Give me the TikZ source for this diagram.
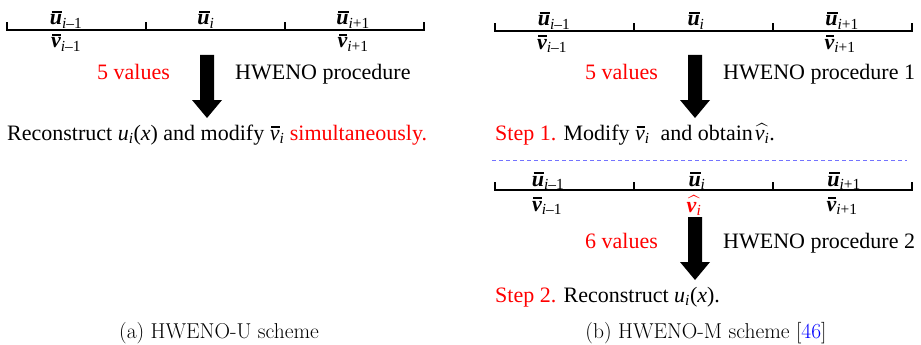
\documentclass[tikz,border=0pt]{standalone}
\usepackage{fix-cm}
\usepackage{amsmath}
\usepackage{fontspec}
\setmainfont{Liberation Serif}
% Latin Modern for the sub-figure captions
\newcommand\lmfam{\fontfamily{lmr}\selectfont}
\usetikzlibrary{calc}

% italic letters inside math, in the text face
\newcommand\itx[1]{\text{\rmfamily\itshape #1}}
% a letter with a heavy bar over it
\newsavebox\lbox
\newcommand\barred[1]{\mbox{\sbox\lbox{#1}%
  \makebox[0pt][l]{\hspace{0.15\wd\lbox}\raisebox{\dimexpr\ht\lbox+2.2pt\relax}{\rule{0.85\wd\lbox}{1.5pt}}}%
  \usebox\lbox}}
% cell labels (bold letters)
\newcommand\ubr[1]{\ensuremath{\barred{\bfseries\itshape u}_{\itx{#1}}}}
\newcommand\vbr[1]{\ensuremath{\barred{\bfseries\itshape v}_{\itx{#1}}}}
% in-sentence symbols
\newcommand\vbt{\ensuremath{\barred{\itshape v}_{\itx{i}}}}
\newcommand\vht{\ensuremath{\widehat{\itx{v}_{\itx{i}}}}}
\newcommand\vhtb{\ensuremath{\widehat{\text{\bfseries\itshape v}_{\itx{i}}}}}
\newcommand\uix{\itx{u}\ensuremath{_{\itx{i}}}(\itx{x})}

% filled block arrow pointing down, from #1 (top of shaft) to #2 (tip)
\newcommand\blockarrow[2]{%
  \fill ($(#1)+(-7,0)$) -- ($(#2)+(-7,-18)$) -- ($(#2)+(-15,-18)$) -- (#2)
    -- ($(#2)+(15,-18)$) -- ($(#2)+(7,-18)$) -- ($(#1)+(7,0)$) -- cycle;}

\tikzset{
  txt/.style={font=\rmfamily\fontsize{22}{26}\selectfont, inner sep=0pt, anchor=base west},
  lab/.style={font=\rmfamily\fontsize{22}{26}\selectfont, inner sep=0pt, anchor=base},
  captext/.style={font=\lmfam\fontsize{21.5}{26}\selectfont, inner sep=0pt, anchor=base},
  cellline/.style={line width=2pt, line cap=rect},
  sepline/.style={draw=blue!55!white, line width=1pt, dash pattern=on 4pt off 3pt}
}

\begin{document}
\begin{tikzpicture}[x=1pt, y=-1pt]
\useasboundingbox (0,0) rectangle (921,345);

% ---------- (a) HWENO-U ----------
\coordinate (a0) at (7,30);   \coordinate (a1) at (146,30);
\coordinate (a2) at (285,30); \coordinate (a3) at (424,30);
\draw[cellline] ($(a0)+(0,-7)$) -- (a0) -- (a3) -- ($(a3)+(0,-7)$);
\draw[cellline] (a1) -- ++(0,-7) (a2) -- ++(0,-7);

\node[lab] (au1) at (66,25)  {\ubr{i\upshape –1}};
\node[lab] (au2) at (206,25) {\ubr{i}};
\node[lab] (au3) at (353,25) {\ubr{i\upshape +1}};
\node[lab] (av1) at (66,48)  {\vbr{i\upshape –1}};
\node[lab] (av3) at (353,48) {\vbr{i\upshape +1}};

\node[txt, text=red] (afive) at (97,80) {5 values};
\node[txt] (aproc) at (235,80) {HWENO procedure};
\coordinate (aarrs) at (207,55);
\coordinate (aarre) at (207,118);
\blockarrow{aarrs}{aarre}
\node[txt] (arec) at (7,140) {Reconstruct \uix{} and modify \vbt{} \textcolor{red}{simultaneously.}};

\node[captext] (acap) at (219,338) {(a)\ HWENO-U scheme};

% ---------- (b) HWENO-M ----------
\coordinate (b0) at (495,31); \coordinate (b1) at (634,31);
\coordinate (b2) at (773,31); \coordinate (b3) at (912,31);
\draw[cellline] ($(b0)+(0,-7)$) -- (b0) -- (b3) -- ($(b3)+(0,-7)$);
\draw[cellline] (b1) -- ++(0,-7) (b2) -- ++(0,-7);

\node[lab] (bu1) at (554,26) {\ubr{i\upshape –1}};
\node[lab] (bu2) at (696,26) {\ubr{i}};
\node[lab] (bu3) at (842,26) {\ubr{i\upshape +1}};
\node[lab] (bv1) at (552,49) {\vbr{i\upshape –1}};
\node[lab] (bv3) at (840,49) {\vbr{i\upshape +1}};

\node[txt, text=red] (bfive) at (585,80) {5 values};
\node[txt] (bproc) at (723,80) {HWENO procedure 1};
\coordinate (barrs) at (695,55);
\coordinate (barre) at (695,118);
\blockarrow{barrs}{barre}
\node[txt] (bstep1) at (495,140) {\textcolor{red}{Step 1.} Modify \vbt\ \ and obtain\kern2pt\vht.};

\coordinate (sepl) at (492,160);
\coordinate (sepr) at (907,160);
\draw[sepline] (sepl) -- (sepr);

\coordinate (c0) at (495,190); \coordinate (c1) at (634,190);
\coordinate (c2) at (773,190); \coordinate (c3) at (912,190);
\draw[cellline] ($(c0)+(0,-7)$) -- (c0) -- (c3) -- ($(c3)+(0,-7)$);
\draw[cellline] (c1) -- ++(0,-7) (c2) -- ++(0,-7);

\node[lab] (cu1) at (548,186) {\ubr{i\upshape –1}};
\node[lab] (cu2) at (697,186) {\ubr{i}};
\node[lab] (cu3) at (844,186) {\ubr{i\upshape +1}};
\node[lab] (cv1) at (547,211) {\vbr{i\upshape –1}};
\node[lab, text=red] (cv2) at (694,212) {\vhtb};
\node[lab] (cv3) at (842,211) {\vbr{i\upshape +1}};

\node[txt, text=red] (csix) at (585,248) {6 values};
\node[txt] (cproc) at (723,248) {HWENO procedure 2};
\coordinate (carrs) at (695,217);
\coordinate (carre) at (695,280);
\blockarrow{carrs}{carre}
\node[txt] (cstep2) at (495,302) {\textcolor{red}{Step 2.} Reconstruct \uix.};

\node[captext] (bcap) at (706,338) {(b)\ HWENO-M scheme [\textcolor{blue}{46}]};
\end{tikzpicture}
\end{document}
